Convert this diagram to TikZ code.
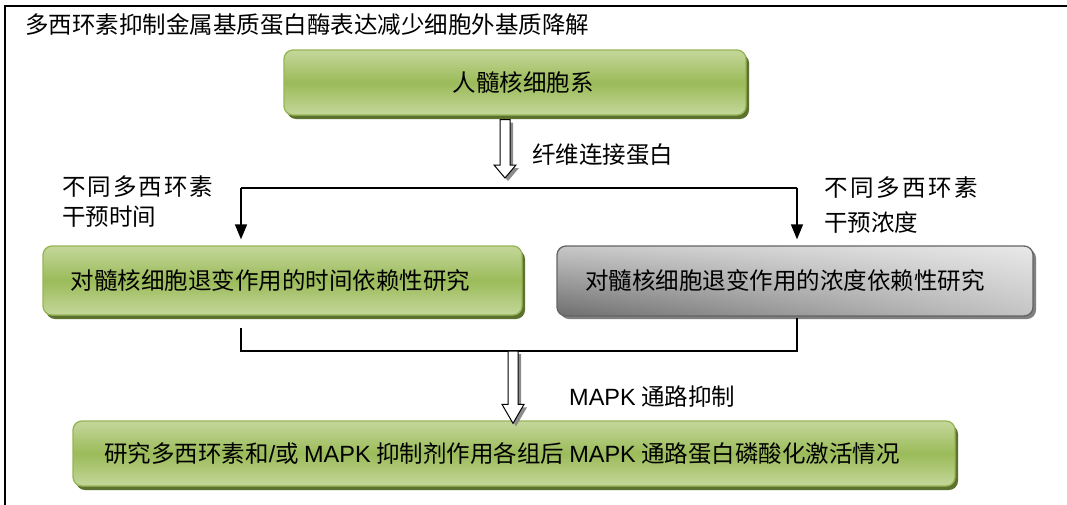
\documentclass[tikz,border=0pt]{standalone}
\usepackage{fontspec}
\setmainfont{Noto Sans CJK SC}
\newfontfamily\latf{Liberation Sans}
\usetikzlibrary{shadows,arrows.meta,calc,fadings}
\definecolor{glight}{RGB}{196,215,155}
\definecolor{gmid}{RGB}{155,187,89}
\definecolor{gborder}{RGB}{150,182,84}
\definecolor{gshadow}{RGB}{92,114,46}
\definecolor{sdark}{RGB}{110,110,110}
\definecolor{slight}{RGB}{200,200,200}
\definecolor{sborder}{RGB}{100,100,100}
\definecolor{sshadow}{RGB}{128,128,128}
\definecolor{ashadow}{RGB}{140,140,140}
\tikzfading[name=fadeleft, left color=transparent!100, right color=transparent!0]
\newcommand\tf{\fontsize{23.5}{28}\selectfont}
\newcommand\blockarr[3]{%
  \path[fill=ashadow] let \p1=(#1), \p2=(#2) in
    (\x1-2pt,\y1-3pt) -- (\x1+8pt,\y1-3pt) -- (\x1+8pt,\y2+#3-3pt) -- (\x1+14pt,\y2+#3-3pt)
    -- (\x1+3pt,\y2-3pt) -- (\x1-8pt,\y2+#3-3pt) -- (\x1-2pt,\y2+#3-3pt) -- cycle;
  \path[draw=black, fill=white, line width=1pt] let \p1=(#1), \p2=(#2) in
    (\x1-5pt,\y1) -- (\x1+5pt,\y1) -- (\x1+5pt,\y2+#3) -- (\x1+11pt,\y2+#3)
    -- (\x1,\y2) -- (\x1-11pt,\y2+#3) -- (\x1-5pt,\y2+#3) -- cycle;}
\begin{document}
\begin{tikzpicture}[x=1pt,y=-1pt,
  gbox/.style={rounded corners=9pt, draw=gborder, line width=1.3pt,
    top color=glight, bottom color=glight, middle color=gmid,
    drop shadow={shadow xshift=3pt, shadow yshift=-4pt, fill=gshadow, opacity=1},
    inner sep=0pt, font=\tf},
  sbox/.style={rounded corners=9pt, draw=sborder, line width=1.3pt,
    top color=slight, bottom color=sdark,
    path picture={\fill[white, opacity=0.6, path fading=fadeleft]
      (path picture bounding box.south west) rectangle (path picture bounding box.north east);},
    drop shadow={shadow xshift=3pt, shadow yshift=-3pt, fill=sshadow, opacity=1},
    inner sep=0pt, font=\tf},
  conn/.style={line width=1.5pt, black},
  conarrow/.style={conn, -{Triangle[width=12pt,length=15pt]}},
  lbl/.style={font=\tf, inner sep=0pt, anchor=west, align=left}]
\clip (0,0) rectangle (1067,504);
\fill[white] (0,0) rectangle (1067,504);
\draw[line width=1.6pt] (5,6) rectangle (1080,520);

\node[lbl] (title) at (25,25) {多西环素抑制金属基质蛋白酶表达减少细胞外基质降解};

\node[gbox, minimum width=462pt, minimum height=65pt] (cell) at (515,82.5) {\hspace*{16pt}人髓核细胞系};
\node[gbox, minimum width=479pt, minimum height=69pt] (tbox) at (282.5,280.5) {对髓核细胞退变作用的时间依赖性研究\hspace*{24pt}};
\node[sbox, minimum width=476pt, minimum height=70pt] (cbox) at (795,281) {对髓核细胞退变作用的浓度依赖性研究\hspace*{20pt}};
\node[gbox, minimum width=882pt, minimum height=65pt] (mbox) at (514,453.5) {研究多西环素和{\latf /}或 {\latf MAPK} 抑制剂作用各组后 {\latf MAPK} 通路蛋白磷酸化激活情况\hspace*{24pt}};

% split
\coordinate (j1) at (505,188);
\coordinate (hl) at (241,188);
\coordinate (hr) at (797,188);
\coordinate (a1top) at (cell.south -| j1);
\blockarr{[yshift=-4pt]a1top}{[yshift=10pt]j1}{13pt}
\node[lbl] (fn) at (532,155) {纤维连接蛋白};
\draw[conn] (hl) -- (hr);
\draw[conarrow] (hl) -- ([yshift=6pt]hl |- tbox.north);
\draw[conarrow] (hr) -- ([yshift=6pt]hr |- cbox.north);
\node[lbl, font=\fontsize{23.5}{30}\selectfont] (tl) at (62,202) {不\kern2pt 同\kern2pt 多\kern2pt 西\kern2pt 环\kern2pt 素\\干预时间};
\node[lbl, font=\fontsize{23.5}{35}\selectfont] (cl) at (824,205) {不\kern2.5pt 同\kern2.5pt 多\kern2.5pt 西\kern2.5pt 环\kern2.5pt 素\\干预浓度};

% merge
\coordinate (bl) at (241,351);
\coordinate (br) at (797,351);
\coordinate (j2) at (513,351);
\draw[conn] ([yshift=-12pt]bl |- tbox.south) -- (bl) -- (br) -- ([yshift=-1pt]br |- cbox.south);
\blockarr{j2}{[yshift=-3pt]j2 |- mbox.north}{19pt}
\node[lbl] (ml) at (569,397) {{\latf MAPK} 通路抑制};
\end{tikzpicture}
\end{document}
